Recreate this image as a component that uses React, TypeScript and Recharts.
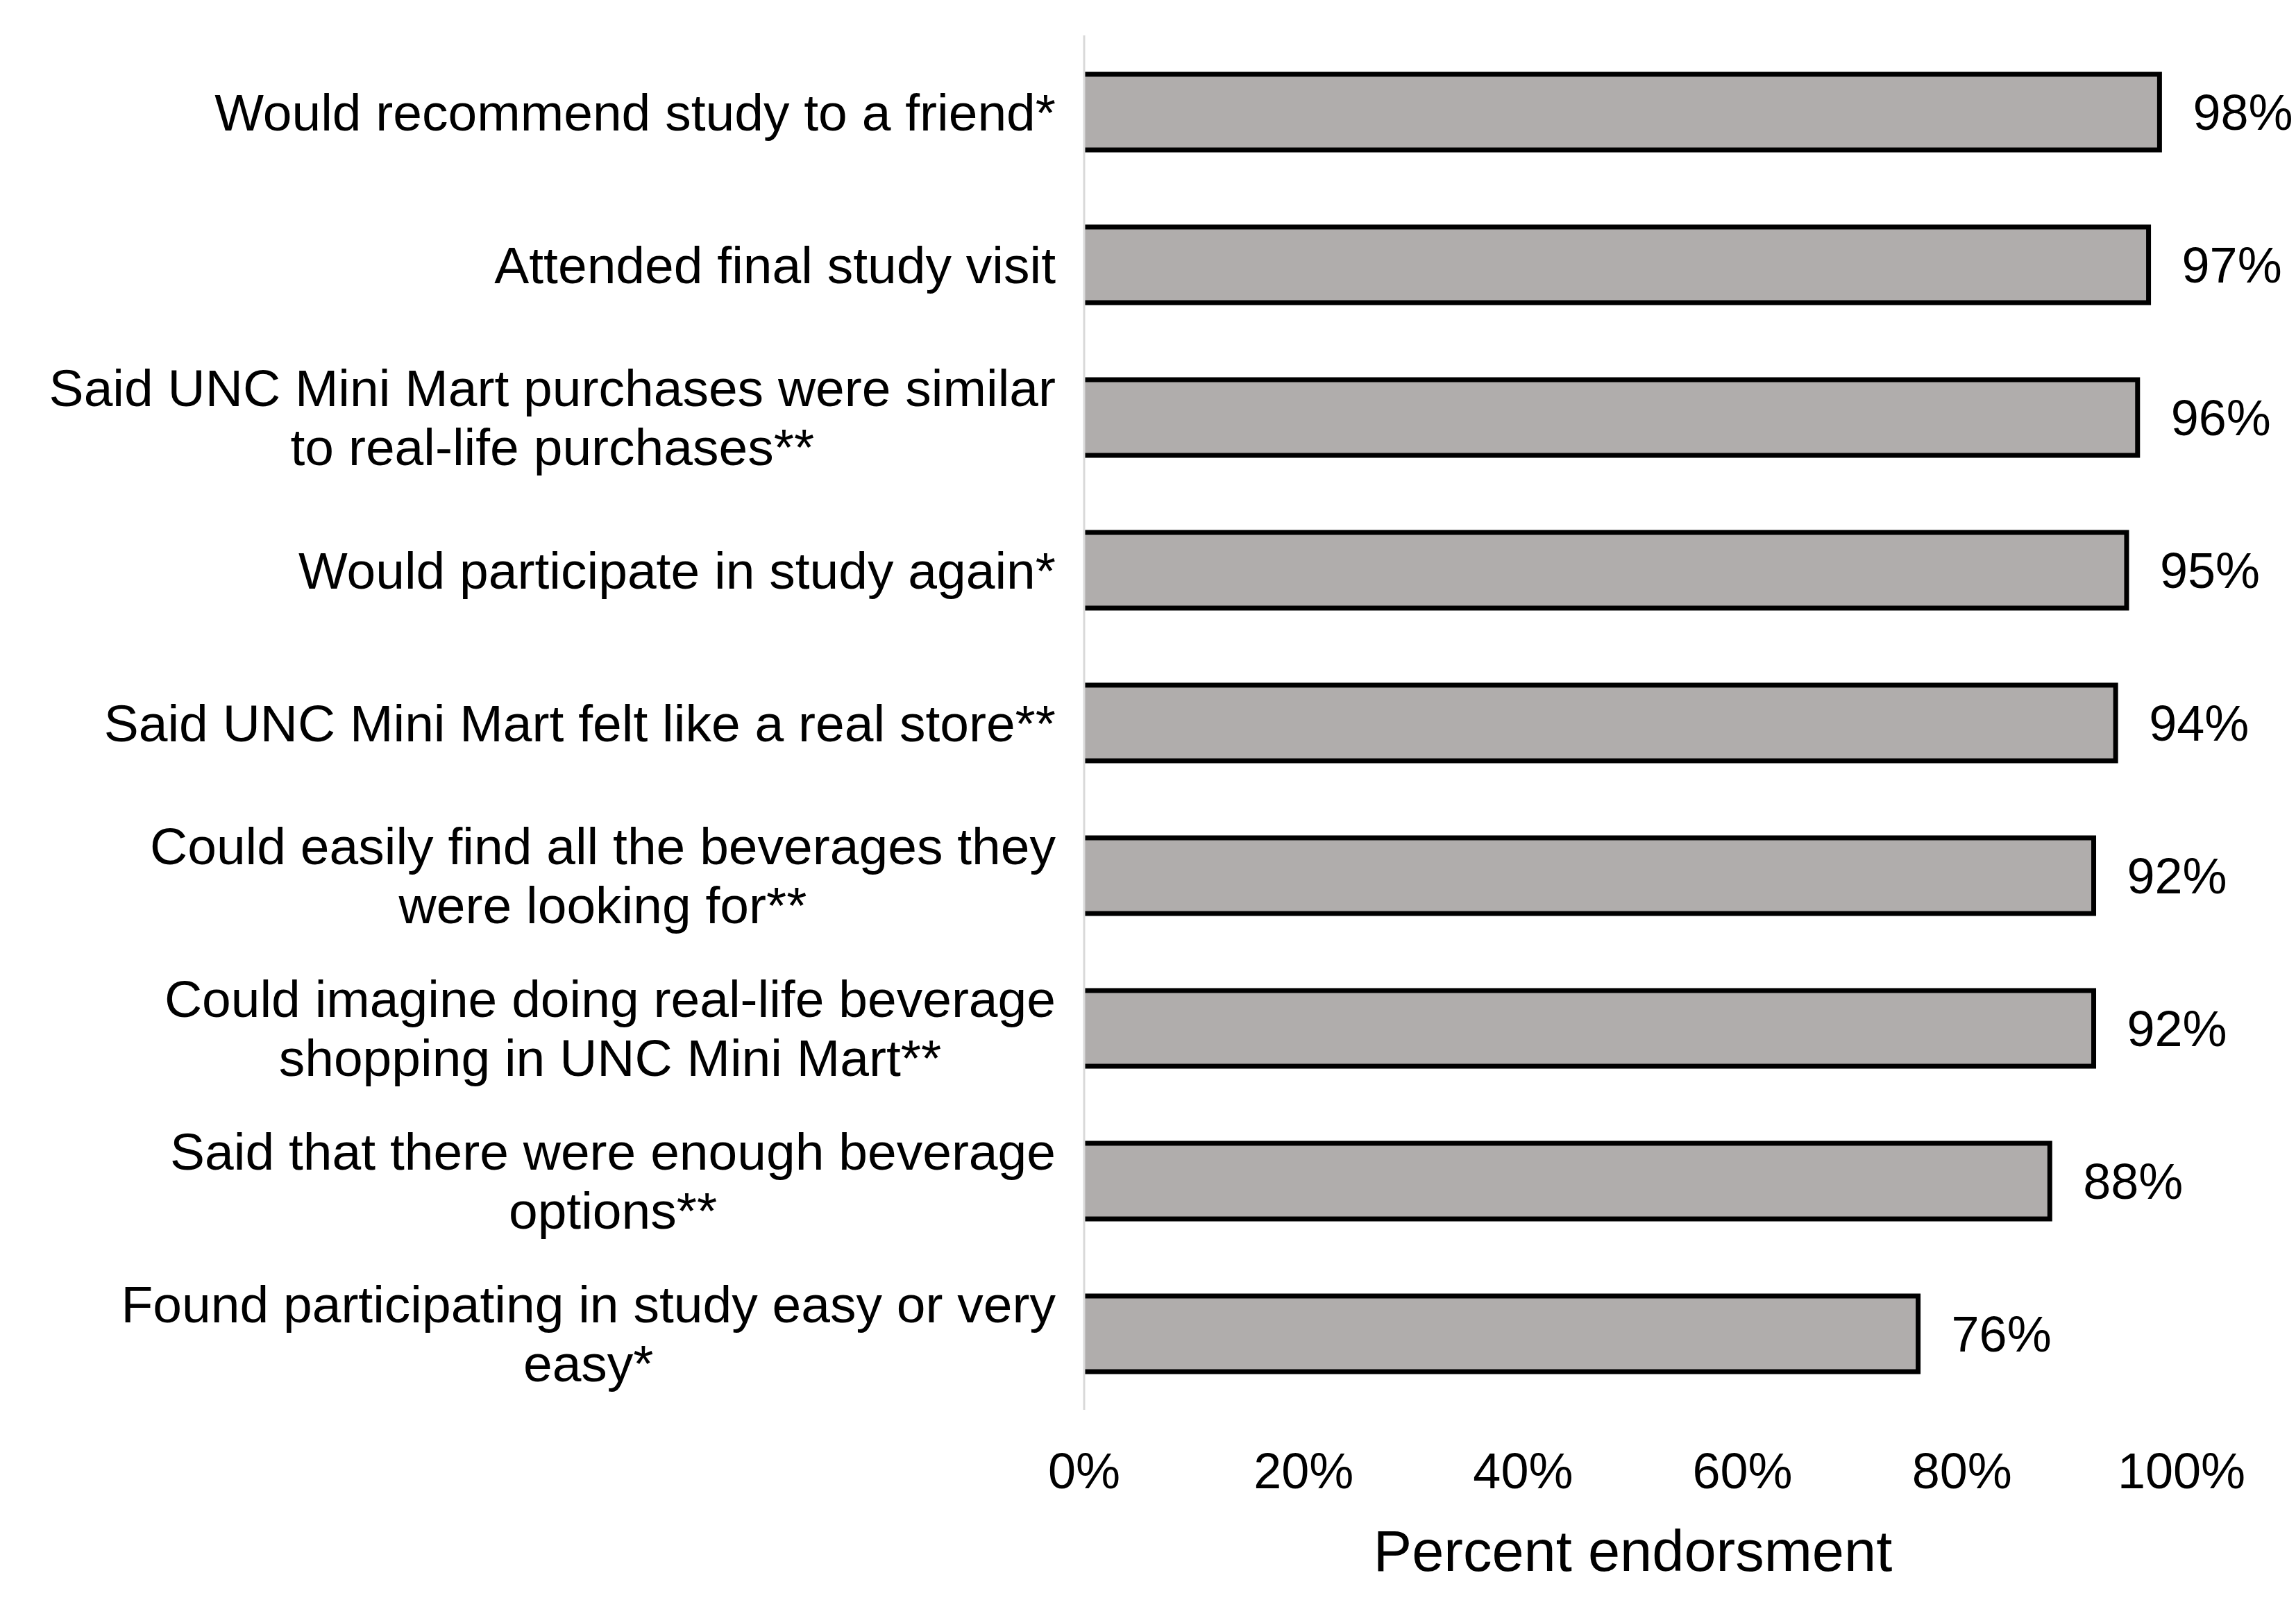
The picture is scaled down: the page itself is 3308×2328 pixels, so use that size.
import React from 'react';
import { BarChart, Bar, XAxis, YAxis, LabelList } from 'recharts';

const categories: string[] = [
  'Would recommend study to a friend*',
  'Attended final study visit',
  'Said UNC Mini Mart purchases were similar\nto real-life purchases**',
  'Would participate in study again*',
  'Said UNC Mini Mart felt like a real store**',
  'Could easily find all the beverages they\nwere looking for**',
  'Could imagine doing real-life beverage\nshopping in UNC Mini Mart**',
  'Said that there were enough beverage\noptions**',
  'Found participating in study easy or very\neasy*',
];
const values: number[] = [98, 97, 96, 95, 94, 92, 92, 88, 76];
const xTicks: number[] = [0, 20, 40, 60, 80, 100];
const axisTitle = 'Percent endorsment';

const data = categories.map((name, i) => ({ name, value: values[i] }));

const W = 3308;
const H = 2328;
const FONT = '"Liberation Sans", Arial, sans-serif';
const CAT_FS = 75;
const NUM_FS = 72;
const LINE_H = 85;

let ctx: CanvasRenderingContext2D | null = null;
const measure = (t: string): number => {
  if (!ctx) ctx = document.createElement('canvas').getContext('2d');
  if (!ctx) return t.length * CAT_FS * 0.5;
  ctx.font = `${CAT_FS}px "Liberation Sans"`;
  return ctx.measureText(t).width;
};

const CatTick = (props: any) => {
  const { x, y, payload } = props;
  const lines = String(payload.value).split('\n');
  const maxW = Math.max(...lines.map(measure));
  const cx = x - maxW / 2;
  const startY = y - ((lines.length - 1) * LINE_H) / 2;
  return (
    <g>
      {lines.map((l, i) => (
        <text
          key={i}
          x={cx}
          y={startY + i * LINE_H}
          dy="0.355em"
          textAnchor="middle"
          fontSize={CAT_FS}
          fontFamily={FONT}
          fill="#000"
        >
          {l}
        </text>
      ))}
    </g>
  );
};

const NumTick = (props: any) => {
  const { x, y, payload } = props;
  return (
    <text x={x} y={y + 87} dy="0.355em" textAnchor="middle" fontSize={NUM_FS} fontFamily={FONT} fill="#000">
      {`${payload.value}%`}
    </text>
  );
};

const BarShape = (props: any) => {
  const { x, y, width, height } = props;
  return (
    <g>
      <rect x={x} y={y} width={width} height={height} fill="#B0ADAC" />
      <path
        d={`M${x},${y} H${x + width} V${y + height} H${x}`}
        fill="none"
        stroke="#000"
        strokeWidth={7}
        strokeLinejoin="miter"
      />
    </g>
  );
};

export default function App() {
  return (
    <div style={{ position: 'absolute', left: 0, top: 0, width: W, height: H, background: '#fff', fontFamily: FONT }}>
      <BarChart
        width={W}
        height={H}
        data={data}
        layout="vertical"
        margin={{ top: 51, right: 165, left: 0, bottom: 0 }}
      >
        <XAxis
          type="number"
          domain={[0, 100]}
          ticks={xTicks}
          axisLine={false}
          tickLine={false}
          tickSize={0}
          tickMargin={0}
          height={297}
          tick={<NumTick />}
          interval={0}
          label={{ value: axisTitle, position: 'insideBottom', offset: 65, fontSize: 83, fill: '#000', fontFamily: FONT }}
        />
        <YAxis
          type="category"
          dataKey="name"
          width={1562}
          axisLine={{ stroke: '#D9D9D9', strokeWidth: 3 }}
          tickLine={false}
          tickSize={0}
          tickMargin={41}
          tick={<CatTick />}
          interval={0}
        />
        <Bar dataKey="value" barSize={109} shape={<BarShape />} isAnimationActive={false}>
          <LabelList
            dataKey="value"
            position="right"
            offset={48}
            fontSize={NUM_FS}
            fill="#000"
            fontFamily={FONT}
            formatter={(v: any) => `${v}%`}
          />
        </Bar>
      </BarChart>
    </div>
  );
}
